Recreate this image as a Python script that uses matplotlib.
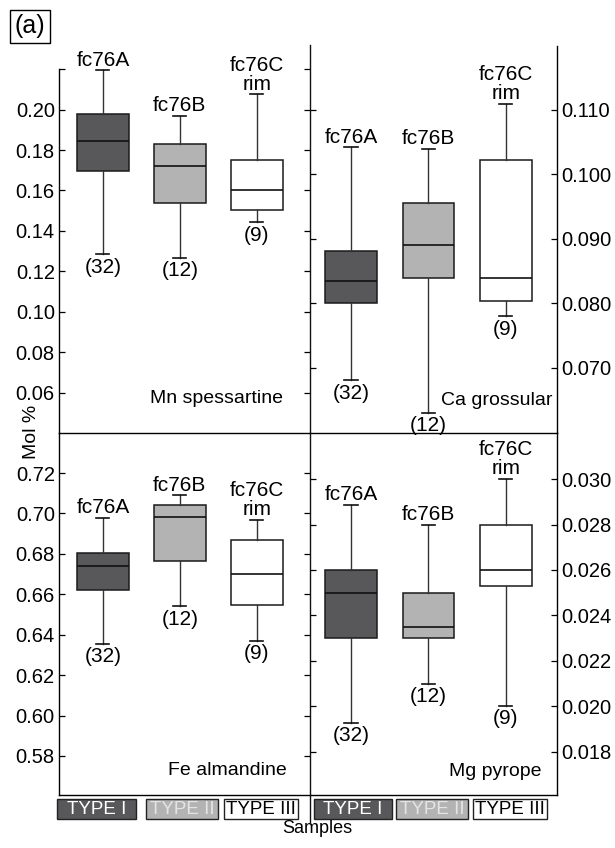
import matplotlib
matplotlib.use("Agg")
import matplotlib.pyplot as plt
from matplotlib.lines import Line2D
from matplotlib.patches import Rectangle

plt.rcParams['font.family'] = ['Liberation Sans', 'DejaVu Sans']

# ---- data -----------------------------------------------------------------
samples = ['fc76A', 'fc76B', 'fc76C\nrim']
counts = ['(32)', '(12)', '(9)']
types = ['TYPE I', 'TYPE II', 'TYPE III']

mn_whislo = [0.1285, 0.1267, 0.1442]
mn_q1 = [0.1695, 0.1540, 0.1503]
mn_med = [0.1845, 0.1721, 0.1601]
mn_q3 = [0.1979, 0.1828, 0.1749]
mn_whishi = [0.2195, 0.1969, 0.2076]

ca_whislo = [0.0681, 0.0630, 0.0780]
ca_q1 = [0.0801, 0.0840, 0.0803]
ca_med = [0.0835, 0.0890, 0.0840]
ca_q3 = [0.0881, 0.0956, 0.1022]
ca_whishi = [0.1042, 0.1040, 0.1109]

fe_whislo = [0.6355, 0.6540, 0.6369]
fe_q1 = [0.6619, 0.6764, 0.6549]
fe_med = [0.6739, 0.6982, 0.6698]
fe_q3 = [0.6803, 0.7043, 0.6869]
fe_whishi = [0.6979, 0.7089, 0.6970]

mg_whislo = [0.01927, 0.02099, 0.02003]
mg_q1 = [0.0230, 0.0230, 0.0253]
mg_med = [0.0250, 0.0235, 0.0260]
mg_q3 = [0.0260, 0.0250, 0.0280]
mg_whishi = [0.02887, 0.0280, 0.0300]

mn_ticks = [0.06, 0.08, 0.10, 0.12, 0.14, 0.16, 0.18, 0.20, 0.22]
mn_labels = ['0.06', '0.08', '0.10', '0.12', '0.14', '0.16', '0.18', '0.20', '']
ca_ticks = [0.070, 0.080, 0.090, 0.100, 0.110]
ca_labels = ['0.070', '0.080', '0.090', '0.100', '0.110']
fe_ticks = [0.58, 0.60, 0.62, 0.64, 0.66, 0.68, 0.70, 0.72]
fe_labels = ['0.58', '0.60', '0.62', '0.64', '0.66', '0.68', '0.70', '0.72']
mg_ticks = [0.018, 0.020, 0.022, 0.024, 0.026, 0.028, 0.030]
mg_labels = ['0.018', '0.020', '0.022', '0.024', '0.026', '0.028', '0.030']

# ---- styling ----------------------------------------------------------------
W, H = 615, 848
fills = ['#58585a', '#b3b3b3', '#ffffff']
type_text = ['#ffffff', '#e4e4e4', '#000000']
TICK_FS = 14.5
LABEL_FS = 15


def fx(px):
    return px / W


def fy(py):
    return 1 - py / H


fig = plt.figure(figsize=(W / 100, H / 100), dpi=100)

x_left, x_mid, x_right = 59, 310, 557
y_top, y_sep, y_bot = 46, 433, 795

ax_mn = fig.add_axes([fx(x_left), fy(y_sep), fx(x_mid - x_left), (y_sep - y_top) / H])
ax_ca = fig.add_axes([fx(x_mid), fy(y_sep), fx(x_right - x_mid), (y_sep - y_top) / H])
ax_fe = fig.add_axes([fx(x_left), fy(y_bot), fx(x_mid - x_left), (y_bot - y_sep) / H])
ax_mg = fig.add_axes([fx(x_mid), fy(y_bot), fx(x_right - x_mid), (y_bot - y_sep) / H])


def draw_panel(ax, lo, q1, med, q3, hi, ylim, xlim, ticks, labels, name, name_xy, side):
    stats = []
    for i in range(len(samples)):
        stats.append(dict(whislo=lo[i], q1=q1[i], med=med[i], q3=q3[i], whishi=hi[i]))
    bp = ax.bxp(stats, positions=[1, 2, 3], widths=0.67, capwidths=0.17,
                patch_artist=True, showfliers=False,
                boxprops=dict(linewidth=1.1, edgecolor='#1a1a1a'),
                medianprops=dict(color='#111111', linewidth=1.2),
                whiskerprops=dict(color='#333333', linewidth=1.0),
                capprops=dict(color='#111111', linewidth=1.2))
    for patch, c in zip(bp['boxes'], fills):
        patch.set_facecolor(c)
    ax.set_xlim(*xlim)
    ax.set_ylim(*ylim)
    ax.set_xticks([])
    ax.set_yticks(ticks)
    ax.set_yticklabels(labels, fontsize=TICK_FS)
    ax.tick_params(axis='y', direction='in', length=4, width=0.9, left=True, right=True, pad=3)
    if side == 'right':
        ax.tick_params(axis='y', labelleft=False, labelright=True)
    for s in ax.spines.values():
        s.set_linewidth(1.0)
    for i in range(len(samples)):
        ax.annotate(samples[i], (i + 1, hi[i]), xytext=(0, 0.5), textcoords='offset points',
                    ha='center', va='bottom', fontsize=LABEL_FS, linespacing=1.0)
        ax.annotate(counts[i], (i + 1, lo[i]), xytext=(0, -2.5), textcoords='offset points',
                    ha='center', va='top', fontsize=LABEL_FS)
    ax.text(name_xy[0], name_xy[1], name, transform=ax.transAxes,
            ha='right', va='center', fontsize=14)
    ax.patch.set_alpha(0)


draw_panel(ax_mn, mn_whislo, mn_q1, mn_med, mn_q3, mn_whishi,
           (0.040, 0.2315), (0.43, 3.69), mn_ticks, mn_labels,
           'Mn spessartine', (0.892, 0.090), 'left')
draw_panel(ax_ca, ca_whislo, ca_q1, ca_med, ca_q3, ca_whishi,
           (0.0599, 0.1199), (0.47, 3.66), ca_ticks, ca_labels,
           'Ca grossular', (0.982, 0.085), 'right')
draw_panel(ax_fe, fe_whislo, fe_q1, fe_med, fe_q3, fe_whishi,
           (0.5607, 0.7398), (0.43, 3.69), fe_ticks, fe_labels,
           'Fe almandine', (0.907, 0.069), 'left')
draw_panel(ax_mg, mg_whislo, mg_q1, mg_med, mg_q3, mg_whishi,
           (0.01609, 0.03203), (0.47, 3.66), mg_ticks, mg_labels,
           'Mg pyrope', (0.938, 0.064), 'right')

# spines: a shared vertical divider replaces the inner spines
for ax in (ax_mn, ax_fe):
    ax.spines['right'].set_visible(False)
for ax in (ax_ca, ax_mg):
    ax.spines['left'].set_visible(False)
for ax in (ax_mn, ax_ca):
    ax.spines['top'].set_visible(False)
    ax.spines['bottom'].set_visible(False)
ax_mn.spines['left'].set_bounds(0.040, 0.22)

fig.add_artist(Line2D([fx(x_mid), fx(x_mid)], [fy(45), fy(822)], color='#111111', linewidth=1.0))

# y-axis title
fig.text(fx(31), fy(432), 'Mol %', rotation=90, ha='center', va='center', fontsize=14)

# panel tag
fig.text(fx(30), fy(26.5), '(a)', ha='center', va='center', fontsize=18,
         bbox=dict(boxstyle='square,pad=0.18', facecolor='white', edgecolor='black', linewidth=1.0))

# sample-type keys under each column
key_boxes = [(57, 136), (146, 218), (224, 298), (314, 392), (396, 468), (473, 547)]
for k, (x0, x1) in enumerate(key_boxes):
    t = k % 3
    fig.add_artist(Rectangle((fx(x0), fy(819)), fx(x1 - x0), (819 - 799) / H,
                             facecolor=fills[t], edgecolor='#222222', linewidth=1.0))
    fig.text(fx((x0 + x1) / 2), fy(809.5), types[t], ha='center', va='center',
             fontsize=13.5, color=type_text[t])

fig.text(fx(317), fy(833), 'Samples', ha='center', va='baseline', fontsize=13)

fig.savefig('out.png', dpi=100)
